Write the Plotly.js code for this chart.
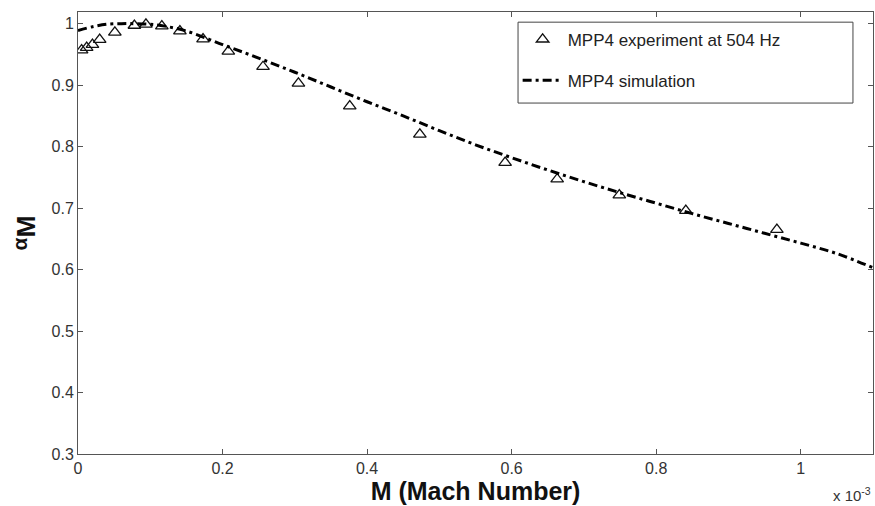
<!DOCTYPE html>
<html>
<head>
<meta charset="utf-8">
<script src="https://cdn.plot.ly/plotly-3.0.1.min.js"></script>
<style>html,body{margin:0;padding:0;background:#fff;}#chart{width:875px;height:506px;}</style>
</head>
<body>
<div id="chart"></div>
<script>
// Experiment (M in units of 1e-3)
var expM = [0.005, 0.012, 0.020, 0.030, 0.051, 0.078, 0.094, 0.116, 0.141, 0.173, 0.208, 0.256, 0.305, 0.376, 0.473, 0.591, 0.663, 0.749, 0.841, 0.967];
var expAlpha = [0.957, 0.961, 0.966, 0.974, 0.986, 0.997, 0.999, 0.996, 0.988, 0.975, 0.955, 0.930, 0.903, 0.866, 0.820, 0.774, 0.747, 0.721, 0.696, 0.665];
// Simulation
var simM = [0, 0.02, 0.04, 0.06, 0.08, 0.10, 0.12, 0.15, 0.20, 0.25, 0.30, 0.35, 0.40, 0.45, 0.50, 0.55, 0.60, 0.65, 0.70, 0.75, 0.80, 0.85, 0.90, 0.95, 1.00, 1.05, 1.10];
var simAlpha = [0.989, 0.995, 0.999, 1.000, 1.000, 0.999, 0.996, 0.988, 0.966, 0.944, 0.921, 0.897, 0.873, 0.850, 0.826, 0.803, 0.782, 0.762, 0.743, 0.725, 0.708, 0.691, 0.675, 0.659, 0.643, 0.626, 0.603];
var xTicks = [0, 0.2, 0.4, 0.6, 0.8, 1];
var xTickText = ["0", "0.2", "0.4", "0.6", "0.8", "1"];
var yTicks = [0.3, 0.4, 0.5, 0.6, 0.7, 0.8, 0.9, 1];
var yTickText = ["0.3", "0.4", "0.5", "0.6", "0.7", "0.8", "0.9", "1"];

var FONT = 'Liberation Sans, Arial, sans-serif';

var traces = [
  {x: expM, y: expAlpha, type: 'scatter', mode: 'markers', name: 'MPP4 experiment at 504 Hz',
   legendgroup: 'a',
   marker: {symbol: 'triangle-up-open', size: 11, color: '#111', line: {width: 1.3, color: '#111'}}},
  {x: simM, y: simAlpha, type: 'scatter', mode: 'lines', name: 'MPP4 simulation',
   legendgroup: 'b', line: {shape: 'spline', color: '#000', width: 3, dash: '9px,4px,3px,4px'}}
];

var axisCommon = {
  showgrid: false, zeroline: false, showline: true, linecolor: '#555', linewidth: 1,
  mirror: 'ticks', ticks: 'inside', ticklen: 5, tickcolor: '#555',
  tickfont: {family: FONT, size: 16, color: '#333'}
};

var layout = {
  width: 875, height: 506,
  margin: {l: 78, r: 2, t: 12, b: 52},
  paper_bgcolor: '#fff', plot_bgcolor: '#fff',
  showlegend: true,
  legend: {x: 0.553, y: 0.978, xanchor: 'left', yanchor: 'top', borderwidth: 0,
           bgcolor: 'rgba(0,0,0,0)', tracegroupgap: 16, traceorder: 'grouped', itemwidth: 40,
           font: {family: FONT, size: 17, color: '#222'}},
  shapes: [
    {type: 'rect', xref: 'paper', yref: 'paper', x0: 0.5535, x1: 0.9748, y0: 0.794, y1: 0.977,
     layer: 'above', fillcolor: '#fff', line: {color: '#444', width: 1}}
  ],
  xaxis: Object.assign({}, axisCommon, {
    range: [0, 1.1], tickvals: xTicks, ticktext: xTickText,
    title: {text: '<b>M (Mach Number)</b>', standoff: 0,
            font: {family: FONT, size: 25, color: '#111'}}
  }),
  yaxis: Object.assign({}, axisCommon, {
    range: [0.3, 1.019], tickvals: yTicks, ticktext: yTickText,
    title: {text: '<b><span style="font-size:21px">α</span><sub>M</sub></b>', standoff: 12,
            font: {family: FONT, size: 38, color: '#111'}}
  }),
  annotations: [
    {xref: 'paper', yref: 'paper', x: 1.0, y: -0.065, xanchor: 'right', yanchor: 'top',
     text: 'x 10<sup>-3</sup>', showarrow: false,
     font: {family: FONT, size: 15, color: '#333'}}
  ]
};

Plotly.newPlot('chart', traces, layout, {displayModeBar: false, staticPlot: true});
</script>
</body>
</html>
